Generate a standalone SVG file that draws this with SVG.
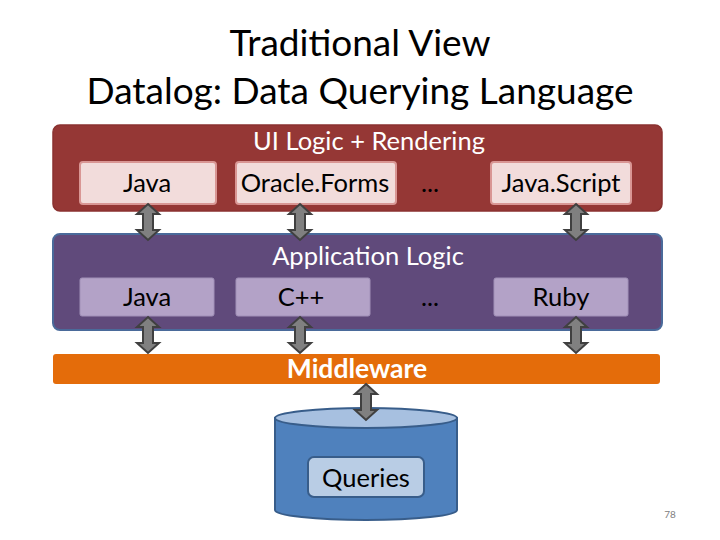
<svg xmlns="http://www.w3.org/2000/svg" xmlns:xlink="http://www.w3.org/1999/xlink" width="720" height="540" viewBox="0 0 720 540">
<style>
text{font-family:Lato,"Liberation Sans",sans-serif;text-anchor:middle}
.title{font-size:37px;fill:#000}
.lbl{font-size:25.5px;fill:#000}
.hdr{font-size:25.5px;fill:#fff}
.red{fill:#953735;stroke:#8a3230;stroke-width:1.5}
.redbox{fill:#f2dcdb;stroke:#d99694;stroke-width:2}
.pur{fill:#604a7b;stroke:#4a6a9a;stroke-width:2}
.purbox{fill:#b3a2c7;stroke:#a190b8;stroke-width:1}
.arr{fill:#808080;stroke:#404040;stroke-width:2;stroke-linejoin:miter}
</style>
<defs>
<path id="dbl" d="M0,0 L11,10 L5,10 L5,26 L11,26 L0,36 L-11,26 L-5,26 L-5,10 L-11,10 Z"/>
</defs>
<g id="title">
<text class="title" x="360" y="56">Traditional View</text>
<text class="title" x="360" y="104">Datalog: Data Querying Language</text>
</g>
<g id="ui-layer">
<rect class="red" x="53" y="125" width="609" height="86" rx="7"/>
<text class="hdr" x="369" y="150">UI Logic + Rendering</text>
</g>
<g id="ui-java"><rect class="redbox" x="80" y="162" width="136" height="42" rx="3"/><text class="lbl" x="147" y="192">Java</text></g>
<g id="ui-oracle"><rect class="redbox" x="236" y="162" width="160" height="42" rx="3"/><text class="lbl" x="315" y="192">Oracle.Forms</text></g>
<g id="ui-dots"><text class="lbl" x="430" y="192">...</text></g>
<g id="ui-js"><rect class="redbox" x="491" y="162" width="140" height="42" rx="3"/><text class="lbl" x="561" y="192">Java.Script</text></g>
<g id="app-layer">
<rect class="pur" x="53" y="234" width="609" height="96" rx="7"/>
<text class="hdr" x="368" y="265">Application Logic</text>
</g>
<g id="app-java"><rect class="purbox" x="80" y="278" width="134" height="38" rx="2"/><text class="lbl" x="147" y="306">Java</text></g>
<g id="app-cpp"><rect class="purbox" x="236" y="278" width="134" height="38" rx="2"/><text class="lbl" x="301" y="306">C++</text></g>
<g id="app-dots"><text class="lbl" x="430" y="306">...</text></g>
<g id="app-ruby"><rect class="purbox" x="494" y="278" width="134" height="38" rx="2"/><text class="lbl" x="561" y="306">Ruby</text></g>
<g id="middleware">
<rect x="53" y="354" width="607" height="30" rx="3" fill="#e46c0a"/>
<text x="357" y="378" style="font-size:26.5px;font-weight:bold;fill:#fff">Middleware</text>
</g>
<g id="database">
<path d="M275,418 L275,510 A91,10 0 0 0 457,510 L457,418 Z" fill="#4f81bd" stroke="#385d8a" stroke-width="2"/>
<ellipse cx="366" cy="418" rx="91" ry="10" fill="#a7c0e0" stroke="#385d8a" stroke-width="2"/>
<rect x="308" y="457" width="116" height="40" rx="6" fill="#b9cde5" stroke="#385d8a" stroke-width="2"/>
<text class="lbl" x="366" y="487">Queries</text>
</g>
<g id="connectors">
<use xlink:href="#dbl" class="arr" transform="translate(148,204)"/>
<use xlink:href="#dbl" class="arr" transform="translate(300,204)"/>
<use xlink:href="#dbl" class="arr" transform="translate(576,204)"/>
<use xlink:href="#dbl" class="arr" transform="translate(148,317)"/>
<use xlink:href="#dbl" class="arr" transform="translate(300,317)"/>
<use xlink:href="#dbl" class="arr" transform="translate(576,317)"/>
<use xlink:href="#dbl" class="arr" transform="translate(366,384)"/>
</g>
<g id="page"><text x="670" y="518" style="font-size:10px;fill:#808080">78</text></g>
</svg>
